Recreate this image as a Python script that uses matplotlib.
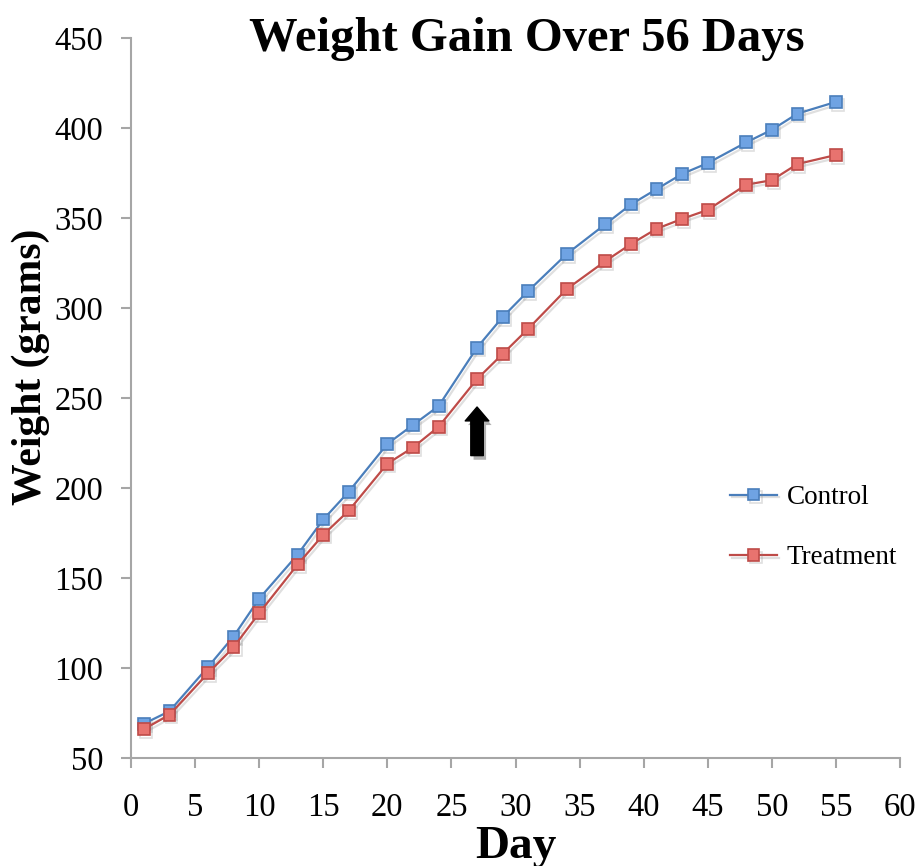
import numpy as np
import matplotlib.pyplot as plt
import matplotlib.patheffects as pe

plt.rcParams['font.family'] = ['Liberation Serif', 'DejaVu Serif']

days = [1, 3, 6, 8, 10, 13, 15, 17, 20, 22, 24, 27, 29, 31, 34, 37, 39, 41, 43, 45, 48, 50, 52, 55]
control = [69, 76, 100.5, 117.5, 138.5, 163, 182.5, 198, 224.5, 235, 245.5, 278, 295, 309.5,
           330, 346.5, 357.5, 366, 374.5, 380.5, 392, 399, 408, 414.5]
treatment = [66, 74, 97, 111.5, 130.5, 157.5, 174, 187.5, 213.5, 222.5, 234, 260.5, 274.5, 288.5,
             310.5, 326, 335.5, 344, 349.5, 354.5, 368.5, 371, 380, 385]

blue_line, blue_face = '#4a7ebb', '#6fa3e3'
red_line, red_face = '#be4b48', '#e8736f'
axis_col = '#a6a6a6'

fig = plt.figure(figsize=(9.17, 8.66), dpi=100)
ax = fig.add_axes([131/917, 1 - 758/866, (900-131)/917, (758-38)/866])

shadow = [pe.SimpleLineShadow(offset=(1.5, -2), alpha=0.25, shadow_color='gray'), pe.Normal()]
ax.plot(days, control, color=blue_line, lw=1.6, marker='s', ms=8.5,
        mfc=blue_face, mec=blue_line, mew=1.2, label='Control', path_effects=shadow)
ax.plot(days, treatment, color=red_line, lw=1.6, marker='s', ms=8.5,
        mfc=red_face, mec=red_line, mew=1.2, label='Treatment', path_effects=shadow)

# arrow marking day 27
ax.annotate('', xy=(27, 245), xytext=(27, 218),
            arrowprops=dict(arrowstyle='simple,head_width=1.7,head_length=1.0,tail_width=0.9',
                            color='black', shrinkA=0, shrinkB=0,
                            path_effects=[pe.SimplePatchShadow(offset=(2, -3), alpha=0.3), pe.Normal()]))

ax.set_xlim(0, 60)
ax.set_ylim(50, 450)
ax.set_xticks(np.arange(0, 61, 5))
ax.set_yticks(np.arange(50, 451, 50))
for s in ['top', 'right']:
    ax.spines[s].set_visible(False)
for s in ['left', 'bottom']:
    ax.spines[s].set_color(axis_col)
    ax.spines[s].set_linewidth(1.5)
ax.tick_params(axis='both', direction='out', length=7, width=1.5, color=axis_col, labelsize=23.5)
ax.tick_params(axis='x', pad=18)
ax.tick_params(axis='y', pad=13)

ax.set_xlabel('Day', fontsize=34, fontweight='bold', labelpad=2)
ax.set_ylabel('Weight (grams)', fontsize=30, fontweight='bold')
ax.yaxis.set_label_coords(-0.105, 0.544)
fig.text(0.574, 0.955, 'Weight Gain Over 56 Days', fontsize=35, fontweight='bold',
         ha='center', va='center')

ax.legend(loc='center left', bbox_to_anchor=(0.747, 0.32), frameon=False, fontsize=19.5,
          handlelength=1.75, handletextpad=0.35, labelspacing=1.3, numpoints=1)

fig.savefig('out.png', dpi=100)
